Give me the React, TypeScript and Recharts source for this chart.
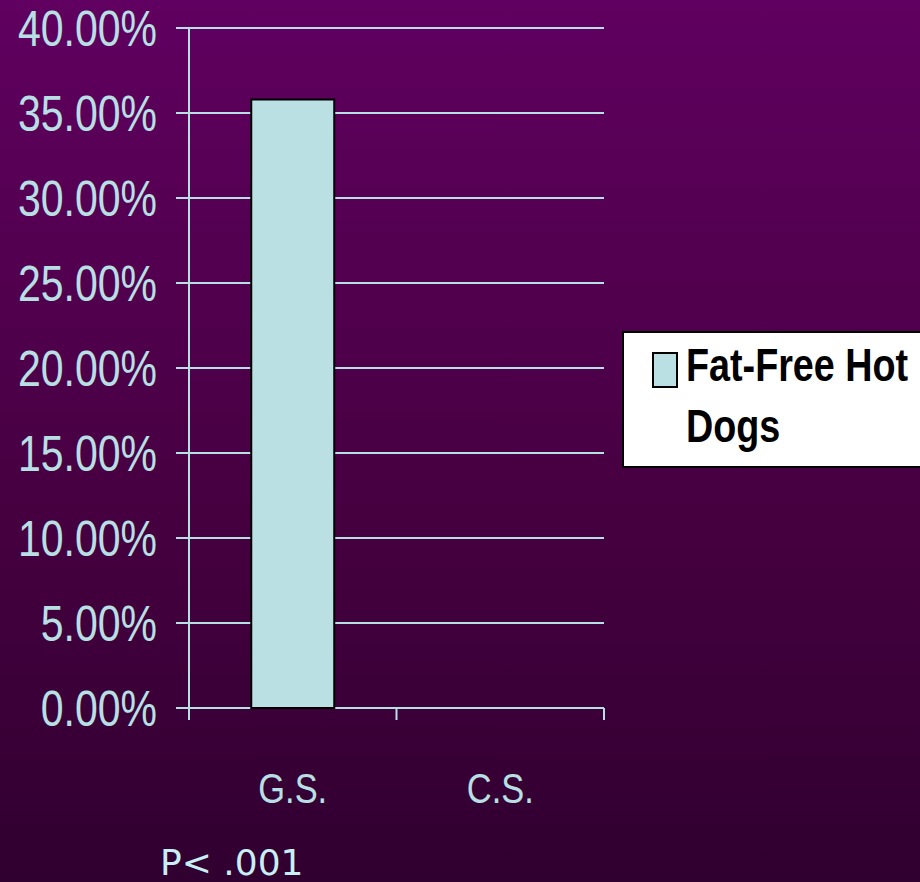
import React from 'react';
import { BarChart, Bar, XAxis, YAxis, CartesianGrid } from 'recharts';

// Share of each group choosing fat-free hot dogs
const groups = ['G.S.', 'C.S.'];
const fatFreeShare = [0.358, 0];
const yTicks = [0, 0.05, 0.1, 0.15, 0.2, 0.25, 0.3, 0.35, 0.4];
const seriesName = 'Fat-Free Hot Dogs';
const pValueNote = 'P< .001';

const chartData = groups.map((group, i) => ({ group, share: fatFreeShare[i] }));

const LINE = '#b8e0e4';
const BAR_FILL = '#bae0e3';
const SANS = '"Liberation Sans", Arial, sans-serif';
// narrow look: regular sans squeezed horizontally
const NARROW_SCALE = 0.82;

const formatPercent = (v: number) => `${(v * 100).toFixed(2)}%`;

const PercentTick = (props: any) => {
  const { x, y, payload } = props;
  return (
    <g transform={`translate(${x},${y}) scale(${NARROW_SCALE},1)`}>
      <text x={0} y={0} dy="0.355em" textAnchor="end" fill={LINE} fontFamily={SANS} fontSize={50}>
        {formatPercent(payload.value)}
      </text>
    </g>
  );
};

// Category label at the band centre, tick marks at the band edges
const GroupTick = (props: any) => {
  const { x, y, payload, index } = props;
  const offset = payload.offset ?? 0;
  const isLast = index === groups.length - 1;
  return (
    <g>
      <line x1={x - offset} x2={x - offset} y1={y - 8} y2={y + 4} stroke={LINE} strokeWidth={2} />
      {isLast && (
        <line x1={x + offset} x2={x + offset} y1={y - 8} y2={y + 4} stroke={LINE} strokeWidth={2} />
      )}
      <g transform={`translate(${x},${y + 87}) scale(${NARROW_SCALE},1)`}>
        <text x={0} y={0} textAnchor="middle" fill={LINE} fontFamily={SANS} fontSize={42}>
          {payload.value}
        </text>
      </g>
    </g>
  );
};

const LegendBox = () => (
  <div
    style={{
      position: 'absolute',
      left: 622,
      top: 331,
      boxSizing: 'border-box',
      width: 310,
      height: 137,
      background: '#ffffff',
      border: '2px solid #000000',
    }}
  >
    <span
      style={{
        position: 'absolute',
        left: 28,
        top: 19,
        width: 22,
        height: 32,
        background: BAR_FILL,
        border: '2px solid #000000',
      }}
    />
    <div
      style={{
        position: 'absolute',
        left: 62,
        top: 2,
        width: 300,
        transform: `scaleX(${NARROW_SCALE})`,
        transformOrigin: 'left top',
        fontFamily: SANS,
        fontWeight: 'bold',
        fontSize: 46,
        lineHeight: '61px',
        color: '#000000',
      }}
    >
      {seriesName}
    </div>
  </div>
);

export default function App() {
  return (
    <div
      style={{
        position: 'absolute',
        left: 0,
        top: 0,
        width: 920,
        height: 882,
        overflow: 'hidden',
        background: 'linear-gradient(to bottom, #600060 0%, #45003f 60%, #300030 100%)',
      }}
    >
      <BarChart
        width={920}
        height={882}
        data={chartData}
        margin={{ top: 28, right: 316, bottom: 74, left: 0 }}
        barCategoryGap="30%"
      >
        <CartesianGrid vertical={false} stroke={LINE} strokeWidth={2} />
        <XAxis
          dataKey="group"
          axisLine={false}
          tickLine={false}
          height={100}
          tick={<GroupTick />}
          interval={0}
        />
        <YAxis
          domain={[0, 0.4]}
          ticks={yTicks}
          width={189}
          axisLine={{ stroke: LINE, strokeWidth: 2 }}
          tickLine={{ stroke: LINE, strokeWidth: 2 }}
          tickSize={13}
          tickMargin={19}
          tick={<PercentTick />}
          interval={0}
        />
        <YAxis
          yAxisId="frame"
          orientation="right"
          domain={[0, 0.4]}
          width={0}
          tick={false}
          tickLine={false}
          axisLine={{ stroke: LINE, strokeWidth: 2 }}
        />
        <Bar
          dataKey="share"
          name={seriesName}
          fill={BAR_FILL}
          stroke="#000000"
          strokeWidth={2}
          maxBarSize={83}
          isAnimationActive={false}
        />
      </BarChart>
      <LegendBox />
      <div
        style={{
          position: 'absolute',
          left: 160,
          top: 843,
          fontFamily: '"DejaVu Sans", Verdana, sans-serif',
          fontSize: 36,
          lineHeight: '40px',
          color: '#c8f0f4',
          whiteSpace: 'pre',
        }}
      >
        {pValueNote}
      </div>
    </div>
  );
}
